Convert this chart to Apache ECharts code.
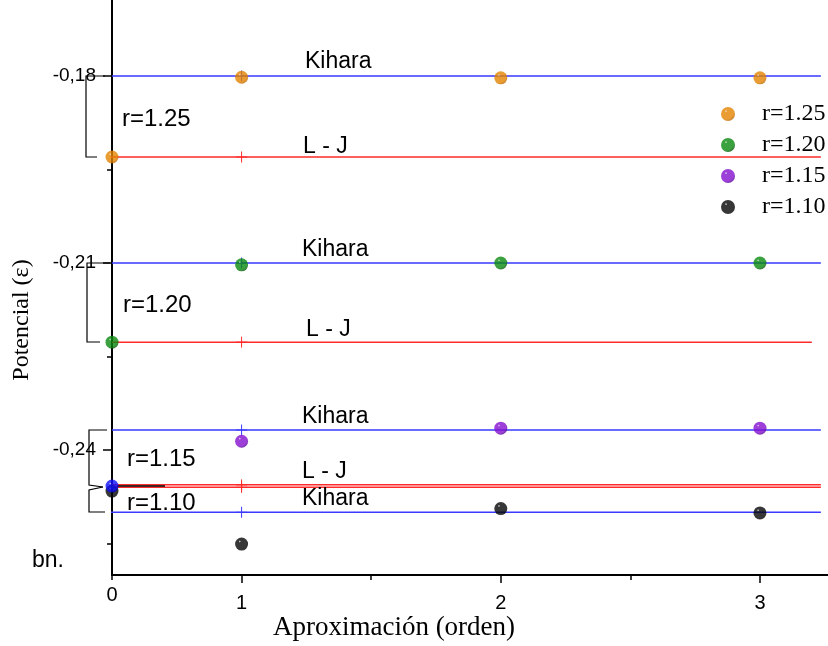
<!DOCTYPE html>
<html>
<head>
<meta charset="utf-8">
<script src="https://cdn.jsdelivr.net/npm/echarts@6/dist/echarts.min.js"></script>
<style>
  html, body { margin: 0; padding: 0; background: #fff; }
  #chart { width: 828px; height: 646px; }
</style>
</head>
<body>
<div id="chart"></div>
<script>
// Approximation order: order 0 sits at the axis origin (0.5), then 1, 2, 3
const ordenPos = [0.5, 1, 2, 3];
const ordenLabels = ['0', '1', '2', '3'];
const xMinorTicks = [1.5, 2.5];

// Potential axis ticks
const yMajorTicks = [-0.24, -0.21, -0.18];
const yMinorTicks = [-0.255, -0.225, -0.195];

// Series names
const radios = ['r=1.25', 'r=1.20', 'r=1.15', 'r=1.10'];

// Computed potential per order (order 0 is the L-J value)
const puntos125 = [-0.1930, -0.1802, -0.1803, -0.1803];
const puntos120 = [-0.2227, -0.2103, -0.2100, -0.2100];
const puntos115 = [-0.2458, -0.2386, -0.2365, -0.2365];
const puntos110 = [-0.2466, -0.2551, -0.2494, -0.2501];

// Reference levels (Kihara and Lennard-Jones) for each r
const kihara       = [-0.1800, -0.2100, -0.2368, -0.2500];
const lennardJones = [-0.1930, -0.2227, -0.2456, -0.2460];

const chart = echarts.init(document.getElementById('chart'));

function sphere(light, base, dark) {
  return new echarts.graphic.RadialGradient(0.36, 0.3, 0.75, [
    { offset: 0, color: light },
    { offset: 0.13, color: base },
    { offset: 0.75, color: base },
    { offset: 1, color: dark }
  ]);
}

const colores = [
  sphere('#f2dcc0', '#e38400', '#b86400'),
  sphere('#c8e8c8', '#0a8a10', '#005000'),
  sphere('#e6ccf8', '#8410d0', '#52008c'),
  sphere('#dcdcdc', '#050505', '#000000')
];
const azul = sphere('#ccccff', '#1010ff', '#0000a8');

const puntos = [puntos125, puntos120, puntos115, puntos110];

const crossSymbol = 'path://M0,5L10,5M5,0L5,10';

function nivel(name, value, color, xStart, xEnd) {
  return {
    type: 'line',
    name: name,
    data: [
      { value: [xStart, value], symbol: 'none' },
      { value: [ordenPos[1], value] },
      { value: [xEnd, value], symbol: 'none' }
    ],
    showAllSymbol: true,
    symbol: crossSymbol,
    symbolSize: 11,
    lineStyle: { color: color, width: 1.5 },
    itemStyle: { color: 'none', borderColor: color, borderWidth: 1 },
    silent: true,
    clip: false,
    z: 2,
    animation: false
  };
}

const series = [];
const kiharaEnd = [3.235, 3.235, 3.235, 3.235];
const ljEnd = [3.235, 3.2, 3.235, 3.235];
kihara.forEach((v, i) => series.push(nivel('Kihara ' + radios[i], v, '#3a3aff', i === 3 ? 0.49 : 0.5, kiharaEnd[i])));
lennardJones.forEach((v, i) => series.push(nivel('L-J ' + radios[i], v, '#ff2a2a', i === 0 ? 0.475 : 0.5, ljEnd[i])));

const zOrder = [5, 5, 7, 4];
puntos.forEach((vals, i) => {
  series.push({
    type: 'scatter',
    name: radios[i],
    symbol: 'circle',
    symbolSize: 13,
    itemStyle: { color: colores[i] },
    data: vals.map((v, j) => {
      const item = { value: [ordenPos[j], v] };
      // the order-0 r=1.15 point is drawn in blue
      if (i === 2 && j === 0) item.itemStyle = { color: azul };
      return item;
    }),
    clip: false,
    z: zOrder[i],
    animation: false
  });
});

const sans = '"Liberation Sans", Arial, sans-serif';
const narrow = '"Liberation Sans Narrow", "Arial Narrow", "Liberation Sans", sans-serif';
const serif = '"Liberation Serif", "Times New Roman", serif';

function texto(t, x, y, size, family) {
  return {
    type: 'text',
    x: x, y: y,
    style: {
      text: t, fill: '#000',
      font: size + 'px ' + (family || sans),
      textAlign: 'left', textVerticalAlign: 'middle'
    },
    z: 10
  };
}

function trazo(points) {
  return {
    type: 'polyline',
    shape: { points: points },
    style: { stroke: '#000', lineWidth: 1.2, fill: null },
    z: 10
  };
}

const xMin = 0.5, xMax = 3.2625;
const yMin = -0.26006, yMax = -0.16781;

const option = {
  backgroundColor: '#fff',
  animation: false,
  grid: { left: 112, right: 0, top: 0, bottom: 71 },
  xAxis: [{
    type: 'value',
    min: xMin,
    max: xMax,
    axisLine: { show: true, lineStyle: { color: '#000', width: 2 } },
    axisTick: {
      show: true, inside: false, length: 8,
      customValues: ordenPos.slice(1),
      lineStyle: { color: '#000', width: 1.5 }
    },
    axisLabel: {
      show: true,
      customValues: ordenPos.slice(1),
      margin: 18,
      fontSize: 20,
      fontFamily: narrow,
      color: '#000',
      formatter: v => ordenLabels[ordenPos.indexOf(v)] ?? ''
    },
    splitLine: { show: false }
  }, {
    // minor ticks and the origin label "0"
    type: 'value',
    min: xMin,
    max: xMax,
    position: 'bottom',
    axisLine: { show: false },
    axisTick: {
      show: true, length: 5,
      customValues: [ordenPos[0]].concat(xMinorTicks),
      lineStyle: { color: '#000', width: 1.5 }
    },
    axisLabel: {
      show: true,
      customValues: [ordenPos[0]],
      margin: 10,
      fontSize: 20,
      fontFamily: narrow,
      color: '#000',
      formatter: v => ordenLabels[ordenPos.indexOf(v)] ?? ''
    },
    splitLine: { show: false }
  }],
  yAxis: [{
    type: 'value',
    min: yMin,
    max: yMax,
    axisLine: { show: true, lineStyle: { color: '#000', width: 2 } },
    axisTick: {
      show: true, length: 9,
      customValues: yMajorTicks,
      lineStyle: { color: '#000', width: 1.5 }
    },
    axisLabel: {
      show: true,
      customValues: yMajorTicks,
      margin: 16,
      fontSize: 19,
      fontFamily: sans,
      color: '#000',
      formatter: v => v.toFixed(2).replace('.', ',')
    },
    splitLine: { show: false }
  }, {
    type: 'value',
    min: yMin,
    max: yMax,
    position: 'left',
    axisLine: { show: false },
    axisTick: {
      show: true, length: 5,
      customValues: yMinorTicks,
      lineStyle: { color: '#000', width: 1.5 }
    },
    axisLabel: { show: false },
    splitLine: { show: false }
  }],
  legend: {
    data: radios,
    orient: 'vertical',
    left: 716,
    top: 97,
    itemWidth: 58,
    itemHeight: 14,
    itemGap: 7,
    icon: 'circle',
    textStyle: { fontFamily: serif, fontSize: 24, lineHeight: 23, color: '#000' },
    selectedMode: false
  },
  series: series,
  graphic: [
    // brackets grouping each r
    trazo([[105, 76], [86, 76], [86, 157], [97, 157]]),
    trazo([[110, 263], [87, 263], [87, 342], [100, 342]]),
    trazo([[107, 430], [89, 430], [89, 485], [103, 487]]),
    trazo([[103, 487], [89, 490], [89, 512], [105, 512]]),
    {
      type: 'line',
      shape: { x1: 117, y1: 486, x2: 165, y2: 486 },
      style: { stroke: '#000', lineWidth: 1.5 },
      z: 3
    },
    texto('r=1.25', 122, 119, 24),
    texto('r=1.20', 123, 305, 24),
    texto('r=1.15', 127, 459, 24),
    texto('r=1.10', 127, 503, 24),
    texto('Kihara', 305, 62, 23),
    texto('Kihara', 302, 250, 23),
    texto('Kihara', 302, 417, 23),
    texto('Kihara', 302, 499, 23),
    texto('L - J', 303, 147, 23),
    texto('L - J', 306, 330, 23),
    texto('L - J', 302, 472, 23),
    texto('bn.', 32, 561, 23),
    {
      type: 'text',
      x: 394, y: 628,
      style: {
        text: 'Aproximación (orden)', fill: '#000',
        font: '27px ' + serif, textAlign: 'center', textVerticalAlign: 'middle'
      }
    },
    {
      type: 'text',
      x: 22, y: 320,
      rotation: Math.PI / 2,
      style: {
        text: 'Potencial (ε)', fill: '#000',
        font: '24px ' + serif, textAlign: 'center', textVerticalAlign: 'middle'
      }
    }
  ]
};

chart.setOption(option);
</script>
</body>
</html>
